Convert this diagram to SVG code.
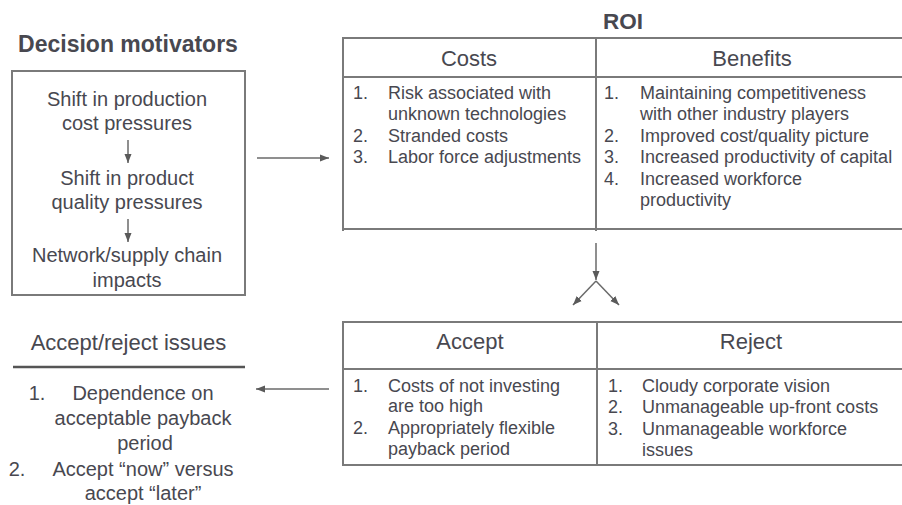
<svg xmlns="http://www.w3.org/2000/svg" width="902" height="505" viewBox="0 0 902 505">
<style>
text{font-family:"Liberation Sans",Arial,sans-serif;fill:#484850}
.t{font-weight:bold;font-size:22.5px}
.h{font-size:22px;text-anchor:middle}
.b{font-size:20px;text-anchor:middle}
.i{font-size:18px}
.ln{stroke:#7a7a7a;stroke-width:2;fill:none}
.ar{stroke:#6a6a6a;stroke-width:1.5;fill:none;marker-end:url(#ah)}
</style>
<defs>
<marker id="ah" markerUnits="userSpaceOnUse" markerWidth="10" markerHeight="8" refX="9" refY="4" orient="auto">
<path d="M0,0.5 L9,4 L0,7.5 z" fill="#5a5a5a"/>
</marker>
</defs>
<rect width="902" height="505" fill="#ffffff"/>

<g id="motivators">
<text class="t" x="128" y="52" text-anchor="middle" style="font-size:23px">Decision motivators</text>
<rect class="ln" x="12" y="71" width="233" height="224"/>
<text class="b" x="127" y="106">Shift in production</text>
<text class="b" x="127" y="130">cost pressures</text>
<line class="ar" x1="128" y1="140" x2="128" y2="163"/>
<text class="b" x="127" y="185">Shift in product</text>
<text class="b" x="127" y="209">quality pressures</text>
<line class="ar" x1="128" y1="219" x2="128" y2="242"/>
<text class="b" x="127" y="262">Network/supply chain</text>
<text class="b" x="127" y="287">impacts</text>
</g>

<g id="roi">
<text class="t" x="603" y="29">ROI</text>
<path class="ln" d="M343,38 L902,38 M343,77 L902,77 M343,229 L902,229 M343,37 L343,231 M596,38 L596,231"/>
<text class="h" x="469" y="66">Costs</text>
<text class="h" x="752" y="66">Benefits</text>
<g class="i">
<text x="353" y="99">1.</text><text x="388" y="99">Risk associated with</text>
<text x="388" y="120">unknown technologies</text>
<text x="353" y="142">2.</text><text x="388" y="142">Stranded costs</text>
<text x="353" y="163">3.</text><text x="388" y="163">Labor force adjustments</text>
<text x="604" y="99">1.</text><text x="640" y="99">Maintaining competitiveness</text>
<text x="640" y="120">with other industry players</text>
<text x="604" y="142">2.</text><text x="640" y="142">Improved cost/quality picture</text>
<text x="604" y="163">3.</text><text x="640" y="163">Increased productivity of capital</text>
<text x="604" y="185">4.</text><text x="640" y="185">Increased workforce</text>
<text x="640" y="206">productivity</text>
</g>
</g>

<g id="decision">
<path class="ln" d="M343,322 L902,322 M343,369 L902,369 M343,465 L902,465 M343,321 L343,466 M597,321 L597,466"/>
<text class="h" x="470" y="349">Accept</text>
<text class="h" x="751" y="349">Reject</text>
<g class="i">
<text x="353" y="392">1.</text><text x="388" y="392">Costs of not investing</text>
<text x="388" y="412">are too high</text>
<text x="353" y="434">2.</text><text x="388" y="434">Appropriately flexible</text>
<text x="388" y="455">payback period</text>
<text x="608" y="392">1.</text><text x="642" y="392">Cloudy corporate vision</text>
<text x="608" y="413">2.</text><text x="642" y="413">Unmanageable up-front costs</text>
<text x="608" y="435">3.</text><text x="642" y="435">Unmanageable workforce</text>
<text x="642" y="456">issues</text>
</g>
</g>

<g id="issues">
<text class="h" x="128.5" y="350">Accept/reject issues</text>
<line x1="13" y1="367" x2="245" y2="367" stroke="#555" stroke-width="2.5"/>
<text class="b" x="37" y="400" text-anchor="start">1.</text>
<text class="b" x="143" y="400">Dependence on</text>
<text class="b" x="143" y="425">acceptable payback</text>
<text class="b" x="145" y="450">period</text>
<text class="b" x="17" y="476" text-anchor="start">2.</text>
<text class="b" x="143" y="476">Accept “now” versus</text>
<text class="b" x="143" y="500">accept “later”</text>
</g>

<g id="connectors">
<line class="ar" x1="257" y1="158" x2="329" y2="158"/>
<line class="ar" x1="596" y1="243" x2="596" y2="280"/>
<line class="ar" x1="596" y1="281" x2="573" y2="305"/>
<line class="ar" x1="596" y1="281" x2="619" y2="305"/>
<line class="ar" x1="329" y1="389" x2="256" y2="389"/>
</g>
</svg>
